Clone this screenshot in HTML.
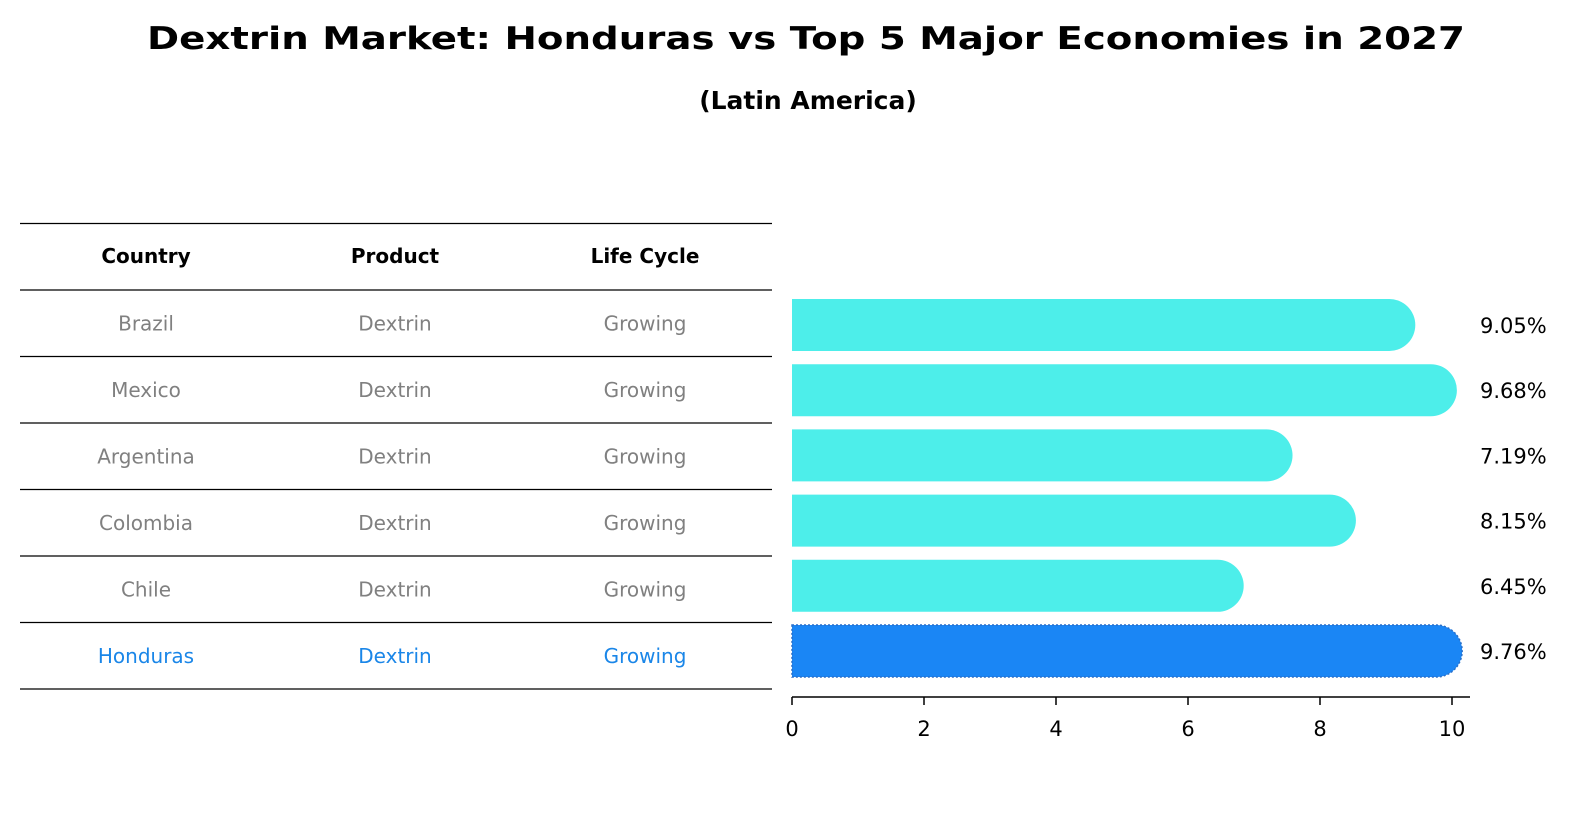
<!DOCTYPE html>
<html><head><meta charset="utf-8"><style>
body{margin:0;background:#fff;}
svg{display:block;font-family:"DejaVu Sans","Liberation Sans",sans-serif;}
</style></head><body>
<svg id="chart" width="1586" height="823" viewBox="0 0 1586 823">
<text x="806" y="49" text-anchor="middle" font-size="31" font-weight="bold" textLength="1318" lengthAdjust="spacingAndGlyphs">Dextrin Market: Honduras vs Top 5 Major Economies in 2027</text>
<text x="808" y="109" text-anchor="middle" font-size="25" font-weight="bold">(Latin America)</text>
<g id="table"></g>
<g id="bars"></g>
<g id="axis"></g>
</svg>
<script>
const countries = ["Brazil","Mexico","Argentina","Colombia","Chile","Honduras"];
const products = ["Dextrin","Dextrin","Dextrin","Dextrin","Dextrin","Dextrin"];
const lifeCycles = ["Growing","Growing","Growing","Growing","Growing","Growing"];
const values = [9.05,9.68,7.19,8.15,6.45,9.76];
const ticks = [0,2,4,6,8,10];

const NS="http://www.w3.org/2000/svg";
function mk(tag,attrs,parent){const e=document.createElementNS(NS,tag);for(const k in attrs)e.setAttribute(k,attrs[k]);parent.appendChild(e);return e;}
const x0=792, ppu=66;
function xs(v){return x0+v*ppu;}
const rowY0=325, rowStep=65.2;
function ys(i){return rowY0+i*rowStep;}

const table=document.getElementById('table');
const lineYs=[223.5,290,356.5,423,489.5,556,622.5,689];
lineYs.forEach((y,i)=>{
  const l=mk('line',{x1:20,x2:772,y1:y,y2:y,stroke:'#000','stroke-width':1.2},table);
  
  
});
const colX=[146,395,645];
["Country","Product","Life Cycle"].forEach((h,j)=>{
  const t=mk('text',{x:colX[j],y:263,'text-anchor':'middle','font-size':20,'font-weight':'bold'},table);
  t.textContent=h;
  
  
});
countries.forEach((c,i)=>{
  const cy=(lineYs[i+1]+lineYs[i+2])/2+7;
  const col=i===countries.length-1?'#1a86e8':'#808080';
  [c,products[i],lifeCycles[i]].forEach((s,j)=>{
    const t=mk('text',{x:colX[j],y:cy,'text-anchor':'middle','font-size':20,fill:col},table);
    t.textContent=s;
    
    
  });
});

const bars=document.getElementById('bars');
const bh=52, r=26;
values.forEach((v,i)=>{
  const cy=ys(i), hl=i===values.length-1;
  const xe=xs(v);
  const d=`M${x0},${cy-bh/2} L${xe},${cy-bh/2} A${r},${r} 0 0 1 ${xe},${cy+bh/2} L${x0},${cy+bh/2} Z`;
  const p=mk('path',{d:d,fill:hl?'#1a86f5':'#4deeea'},bars);
  if(hl){p.setAttribute('stroke','#2a6fc8');p.setAttribute('stroke-width','1.5');p.setAttribute('stroke-dasharray','2,2');}
  
  
  const t=mk('text',{x:1480,y:cy+8,'font-size':21},bars);
  t.textContent=v.toFixed(2)+'%';
  
  
});

const axis=document.getElementById('axis');
const al=mk('line',{x1:x0,x2:1470,y1:697,y2:697,stroke:'#000','stroke-width':1.5},axis);


ticks.forEach(tv=>{
  const tl=mk('line',{x1:xs(tv),x2:xs(tv),y1:697,y2:705,stroke:'#000','stroke-width':1.5},axis);
  
  
  const t=mk('text',{x:xs(tv),y:736,'text-anchor':'middle','font-size':21},axis);
  t.textContent=tv;
  
  
});
</script>
</body></html>
